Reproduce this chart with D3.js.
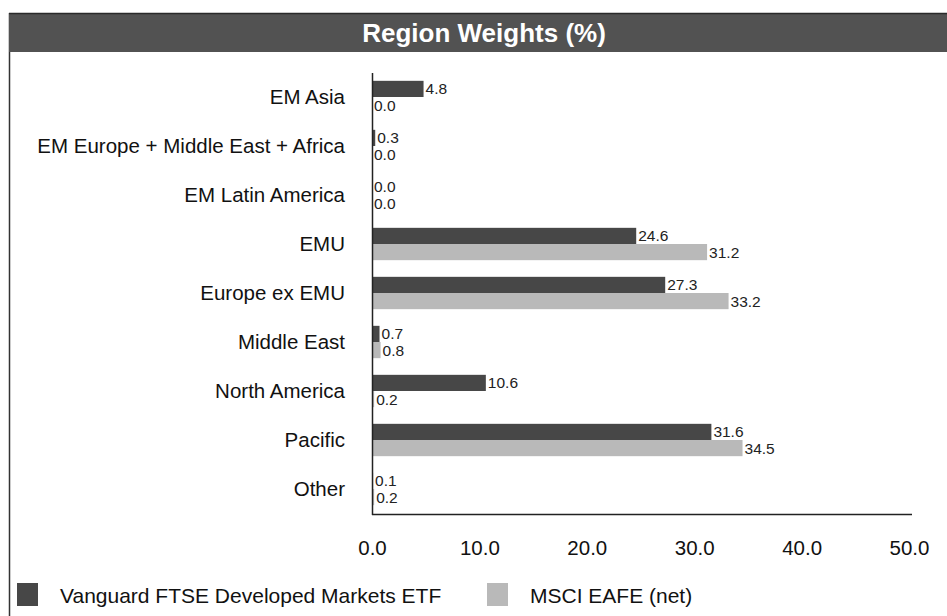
<!DOCTYPE html>
<html>
<head>
<meta charset="utf-8">
<script src="https://cdn.jsdelivr.net/npm/d3@7"></script>
<style>
  html, body { margin: 0; padding: 0; background: #fff; }
  svg { display: block; font-family: "Liberation Sans", Arial, sans-serif; }
</style>
</head>
<body>
<svg id="chart" width="947" height="616"></svg>
<script>
const categories = [
  "EM Asia",
  "EM Europe + Middle East + Africa",
  "EM Latin America",
  "EMU",
  "Europe ex EMU",
  "Middle East",
  "North America",
  "Pacific",
  "Other"
];
const fundValues = [4.8, 0.3, 0.0, 24.6, 27.3, 0.7, 10.6, 31.6, 0.1];
const indexValues = [0.0, 0.0, 0.0, 31.2, 33.2, 0.8, 0.2, 34.5, 0.2];
const seriesNames = ["Vanguard FTSE Developed Markets ETF", "MSCI EAFE (net)"];
const xTicks = [0, 10, 20, 30, 40, 50];
const chartTitle = "Region Weights (%)";

const colors = ["#474747", "#b9b9b9"];
const svg = d3.select("#chart");

// frame: left rule and title banner
svg.append("line").attr("x1", 9.5).attr("x2", 9.5).attr("y1", 13).attr("y2", 616)
  .attr("stroke", "#333").attr("stroke-width", 1.5);
svg.append("rect").attr("x", 9).attr("y", 13).attr("width", 938).attr("height", 39)
  .attr("fill", "#525252");
svg.append("line").attr("x1", 9).attr("x2", 947).attr("y1", 13.5).attr("y2", 13.5)
  .attr("stroke", "#2a2a2a").attr("stroke-width", 1.5);
svg.append("text").attr("x", 484).attr("y", 42).attr("text-anchor", "middle")
  .attr("fill", "#fff").attr("font-size", 26).attr("font-weight", "bold")
  .text(chartTitle);

const x = d3.scaleLinear().domain([0, 50]).range([372, 909]);
const y = d3.scaleBand().domain(categories).range([72.5, 513.5]).paddingInner(0.34).paddingOuter(0.17);
const sub = d3.scaleBand().domain([0, 1]).range([0, y.bandwidth()]);

const rows = categories.map((c, i) => ({ c, v: [fundValues[i], indexValues[i]] }));

const g = svg.append("g");
rows.forEach(r => {
  r.v.forEach((val, s) => {
    const top = y(r.c) + sub(s);
    g.append("rect")
      .attr("x", x(0)).attr("y", top)
      .attr("width", x(val) - x(0)).attr("height", sub.bandwidth())
      .attr("fill", colors[s]);
    g.append("text")
      .attr("x", x(val) + 2).attr("y", top + sub.bandwidth() / 2 + 5.5)
      .attr("font-size", 15.5).attr("fill", "#222")
      .text(val.toFixed(1));
  });
  g.append("text")
    .attr("x", 345).attr("y", y(r.c) + y.bandwidth() / 2 + 7)
    .attr("text-anchor", "end").attr("font-size", 20.5).attr("fill", "#111")
    .text(r.c);
});

// axis lines
svg.append("line").attr("x1", 372.5).attr("x2", 372.5).attr("y1", 73).attr("y2", 515)
  .attr("stroke", "#222").attr("stroke-width", 1.5);
svg.append("line").attr("x1", 372).attr("x2", 912).attr("y1", 514.5).attr("y2", 514.5)
  .attr("stroke", "#222").attr("stroke-width", 1.5);

const xAxis = svg.append("g").attr("transform", "translate(0,537)")
  .call(d3.axisBottom(x).tickValues(xTicks).tickSize(0).tickFormat(d3.format(".1f")));
xAxis.select(".domain").remove();
xAxis.selectAll("text").attr("font-size", 20.5).attr("fill", "#111")
  .attr("font-family", "Liberation Sans, Arial, sans-serif").attr("dy", "0.71em");

// legend
const legend = svg.append("g");
const legendX = [17, 487];
seriesNames.forEach((name, s) => {
  legend.append("rect").attr("x", legendX[s]).attr("y", 583).attr("width", 21).attr("height", 23)
    .attr("fill", colors[s]);
  legend.append("text").attr("x", legendX[s] + 43).attr("y", 603)
    .attr("font-size", 21).attr("fill", "#111").text(name);
});
</script>
</body>
</html>
